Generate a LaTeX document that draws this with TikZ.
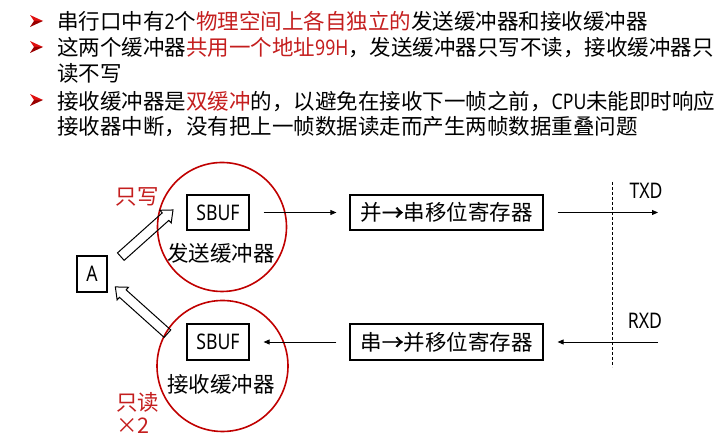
\documentclass[tikz,border=0pt]{standalone}
\usepackage{fontspec}
\setmainfont{Noto Sans CJK SC}
\newfontfamily\latnfont[FakeStretch=0.82]{Noto Sans}
\newfontfamily\arrowfont[FakeBold=2]{Noto Sans CJK SC}
\newcommand\latn[1]{{\latnfont #1}}
\newcommand\harr{{\arrowfont →}}
\usetikzlibrary{arrows.meta}
\definecolor{hred}{HTML}{C41E1E}
\definecolor{cred}{HTML}{C00000}
\definecolor{bredlight}{HTML}{E01010}
\definecolor{breddark}{HTML}{9A0000}
\tikzset{
  tline/.style={inner sep=0pt, anchor=base west},
  box/.style={draw, line width=1.2pt, inner sep=0pt, minimum height=35pt},
  circ/.style={draw=cred, line width=1.6pt, circle, inner sep=0pt},
  conn/.style={line width=0.8pt, -{Triangle[length=6pt,width=5pt]}},
  lbl/.style={inner sep=0pt},
  bul/.pic={
    \fill[bredlight] (-6.5,6) -- (6.5,0) -- (-2.5,0) -- cycle;
    \fill[breddark] (-6.5,-6) -- (6.5,0) -- (-2.5,0) -- cycle;
  },
  hollowarrow/.pic={
    \draw[line width=1pt, line join=miter] (-35,-5) -- (25,-5) -- (25,-8.5) -- (35,0) -- (25,8.5) -- (25,5) -- (-35,5) -- cycle;
  }
}
\begin{document}
\begin{tikzpicture}[x=1pt,y=1pt,font=\fontsize{21.5}{26}\selectfont]
\useasboundingbox (0,0) rectangle (728,443);

% bullets
\pic at (36.5,422) {bul};
\pic at (36.5,396) {bul};
\pic at (36.5,343) {bul};

% text lines
\node[tline] (l1) at (57,413) {串行口中有\latn{2}个\textcolor{hred}{物理空间上各自独立的}发送缓冲器和接收缓冲器};
\node[tline] (l2) at (57,387) {这两个缓冲器\textcolor{hred}{共用一个地址\latn{99H}}，发送缓冲器只写不读，接收缓冲器只};
\node[tline] (l3) at (57,361.5) {读不写};
\node[tline] (l4) at (57,333.5) {接收缓冲器是\textcolor{hred}{双缓冲}的，以避免在接收下一帧之前，\latn{CPU}未能即时响应};
\node[tline] (l5) at (57,308.5) {接收器中断，没有把上一帧数据读走而产生两帧数据重叠问题};

% circles
\node[circ, minimum size=129pt] (c1) at (222,216) {};
\node[circ, minimum size=131pt] (c2) at (222.5,77) {};

% boxes
\node[box, minimum width=62pt] (sb1) at (218,230.5) {\latn{SBUF}};
\node[box, minimum width=193pt] (ps) at (446.5,230.5) {并\harr 串移位寄存器};
\node[box, minimum width=62pt, minimum height=36pt] (sb2) at (218,101) {\latn{SBUF}};
\node[box, minimum width=193pt, minimum height=36pt] (sp) at (446.5,101) {串\harr 并移位寄存器};
\node[box, minimum width=30pt, minimum height=36pt] (A) at (92,169) {\latn{A}};

% labels
\node[lbl] (tx) at (221,190) {发送缓冲器};
\node[lbl] (rx) at (221,59) {接收缓冲器};
\node[lbl, text=hred] (wo) at (137,246) {只写};
\node[lbl, text=hred] (ro) at (137.5,41) {只读};
\node[lbl, text=hred] (x2) at (133,17) {×2};
\node[lbl] (txd) at (646,252) {\latn{TXD}};
\node[lbl] (rxd) at (645,122) {\latn{RXD}};

% dashed boundary
\coordinate (dtop) at (612,261);
\coordinate (dbot) at (612,76);
\draw[line width=0.6pt, dash pattern=on 3pt off 2pt] (dtop) -- (dbot);

% connectors
\coordinate (txe) at (658,230.5);
\coordinate (rxs) at (658,101);
\draw[conn, shorten <=14pt, shorten >=13pt] (sb1) -- (ps);
\draw[conn, shorten <=14pt] (ps.east) -- (txe);
\draw[conn, shorten >=14pt] (rxs) -- (sp.east);
\draw[conn, shorten <=13pt, shorten >=14pt] (sp) -- (sb2);

% hollow block arrows
\pic[rotate=41.8] at (146.9,209.7) {hollowarrow};
\pic[rotate=138.1] at (141.4,132.7) {hollowarrow};
\end{tikzpicture}
\end{document}
